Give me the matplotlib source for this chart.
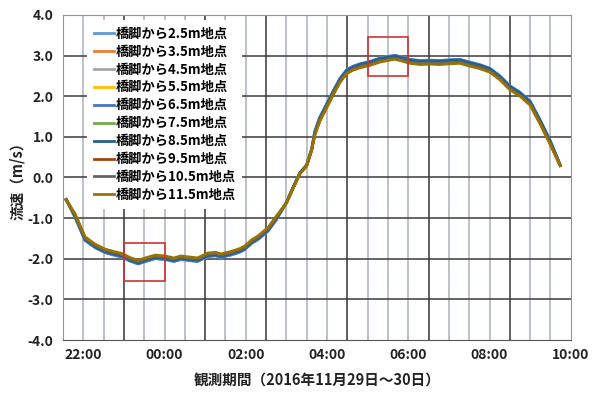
import numpy as np
import matplotlib
matplotlib.use("Agg")
import matplotlib.pyplot as plt
from matplotlib.patches import Rectangle

plt.rcParams['font.family'] = ['Noto Sans CJK JP', 'DejaVu Sans']

# observation time in hours (24+ = next day, 30 Nov)
time_h = [21.58, 21.80, 22.04, 22.29, 22.53, 22.74, 22.95, 23.15, 23.35, 23.56,
          23.77, 24.00, 24.23, 24.40, 24.56, 24.81, 25.06, 25.25, 25.39, 25.64,
          25.85, 25.97, 26.15, 26.30, 26.55, 26.76, 27.00, 27.17, 27.33, 27.50,
          27.62, 27.70, 27.82, 27.99, 28.15, 28.32, 28.48, 28.64, 28.81, 29.06,
          29.30, 29.55, 29.67, 29.79, 30.04, 30.29, 30.53, 30.78, 31.03, 31.27,
          31.52, 31.76, 32.01, 32.26, 32.50, 32.75, 33.00, 33.25, 33.49, 33.74]

# flow speed (m/s) at each distance from the pier
v_25 = [-0.54, -0.99, -1.55, -1.73, -1.85, -1.91, -1.96, -2.06, -2.13, -2.06,
        -2.00, -2.02, -2.07, -2.02, -2.04, -2.07, -1.95, -1.93, -1.97, -1.91,
        -1.84, -1.78, -1.62, -1.53, -1.32, -1.03, -0.61, -0.23, 0.11, 0.31,
        0.69, 1.14, 1.48, 1.81, 2.13, 2.44, 2.65, 2.74, 2.80, 2.86,
        2.94, 2.99, 3.01, 2.98, 2.91, 2.88, 2.89, 2.88, 2.90, 2.91,
        2.84, 2.78, 2.69, 2.50, 2.26, 2.10, 1.88, 1.41, 0.92, 0.31]
v_35 = [-0.55, -0.96, -1.52, -1.70, -1.82, -1.88, -1.93, -2.03, -2.10, -2.03,
        -1.97, -1.99, -2.04, -1.99, -2.01, -2.04, -1.92, -1.90, -1.94, -1.88,
        -1.81, -1.75, -1.59, -1.50, -1.29, -1.00, -0.62, -0.24, 0.10, 0.30,
        0.68, 1.10, 1.44, 1.77, 2.09, 2.40, 2.61, 2.70, 2.76, 2.82,
        2.90, 2.95, 2.97, 2.94, 2.87, 2.84, 2.85, 2.84, 2.86, 2.87,
        2.80, 2.74, 2.65, 2.46, 2.22, 2.06, 1.84, 1.37, 0.88, 0.30]
v_45 = [-0.54, -0.97, -1.53, -1.71, -1.83, -1.89, -1.94, -2.04, -2.11, -2.04,
        -1.98, -2.00, -2.05, -2.00, -2.02, -2.05, -1.93, -1.91, -1.95, -1.89,
        -1.82, -1.76, -1.60, -1.51, -1.30, -1.01, -0.61, -0.23, 0.11, 0.31,
        0.69, 1.11, 1.45, 1.78, 2.10, 2.41, 2.62, 2.71, 2.77, 2.83,
        2.91, 2.96, 2.98, 2.95, 2.88, 2.85, 2.86, 2.85, 2.87, 2.88,
        2.81, 2.75, 2.66, 2.47, 2.23, 2.07, 1.85, 1.38, 0.89, 0.31]
v_55 = [-0.55, -0.95, -1.51, -1.69, -1.81, -1.87, -1.92, -2.02, -2.09, -2.02,
        -1.96, -1.98, -2.03, -1.98, -2.00, -2.03, -1.91, -1.89, -1.93, -1.87,
        -1.80, -1.74, -1.58, -1.49, -1.28, -0.99, -0.62, -0.24, 0.10, 0.30,
        0.68, 1.09, 1.43, 1.76, 2.08, 2.39, 2.60, 2.69, 2.75, 2.81,
        2.89, 2.94, 2.96, 2.93, 2.86, 2.83, 2.84, 2.83, 2.85, 2.86,
        2.79, 2.73, 2.64, 2.45, 2.21, 2.05, 1.83, 1.36, 0.87, 0.30]
v_65 = [-0.54, -0.98, -1.54, -1.72, -1.84, -1.90, -1.95, -2.05, -2.12, -2.05,
        -1.99, -2.01, -2.06, -2.01, -2.03, -2.06, -1.94, -1.92, -1.96, -1.90,
        -1.83, -1.77, -1.61, -1.52, -1.31, -1.02, -0.61, -0.23, 0.11, 0.31,
        0.69, 1.13, 1.47, 1.80, 2.12, 2.43, 2.64, 2.73, 2.79, 2.85,
        2.93, 2.98, 3.00, 2.97, 2.90, 2.87, 2.88, 2.87, 2.89, 2.90,
        2.83, 2.77, 2.68, 2.49, 2.25, 2.09, 1.87, 1.40, 0.91, 0.31]
v_75 = [-0.55, -0.94, -1.50, -1.68, -1.80, -1.86, -1.91, -2.01, -2.08, -2.01,
        -1.95, -1.97, -2.02, -1.97, -1.99, -2.02, -1.90, -1.88, -1.92, -1.86,
        -1.79, -1.73, -1.57, -1.48, -1.27, -0.98, -0.62, -0.24, 0.10, 0.30,
        0.68, 1.11, 1.45, 1.78, 2.10, 2.41, 2.62, 2.71, 2.77, 2.83,
        2.91, 2.96, 2.98, 2.95, 2.88, 2.85, 2.86, 2.85, 2.87, 2.88,
        2.81, 2.75, 2.66, 2.47, 2.23, 2.07, 1.85, 1.38, 0.89, 0.30]
v_85 = [-0.55, -0.96, -1.52, -1.70, -1.82, -1.88, -1.93, -2.03, -2.10, -2.03,
        -1.97, -1.99, -2.04, -1.99, -2.01, -2.04, -1.92, -1.90, -1.94, -1.88,
        -1.81, -1.75, -1.59, -1.50, -1.29, -1.00, -0.62, -0.24, 0.10, 0.30,
        0.68, 1.12, 1.46, 1.79, 2.11, 2.42, 2.63, 2.72, 2.78, 2.84,
        2.92, 2.97, 2.99, 2.96, 2.89, 2.86, 2.87, 2.86, 2.88, 2.89,
        2.82, 2.76, 2.67, 2.48, 2.24, 2.08, 1.86, 1.39, 0.90, 0.30]
v_95 = [-0.56, -0.92, -1.48, -1.66, -1.78, -1.84, -1.89, -1.99, -2.06, -1.99,
        -1.93, -1.95, -2.00, -1.95, -1.97, -2.00, -1.88, -1.86, -1.90, -1.84,
        -1.77, -1.71, -1.55, -1.46, -1.25, -0.96, -0.63, -0.25, 0.09, 0.29,
        0.67, 1.06, 1.40, 1.73, 2.05, 2.36, 2.57, 2.66, 2.72, 2.78,
        2.86, 2.91, 2.93, 2.90, 2.83, 2.80, 2.81, 2.80, 2.82, 2.83,
        2.76, 2.70, 2.61, 2.42, 2.18, 2.02, 1.80, 1.33, 0.84, 0.29]
v_105 = [-0.55, -0.93, -1.49, -1.67, -1.79, -1.85, -1.90, -2.00, -2.07, -2.00,
         -1.94, -1.96, -2.01, -1.96, -1.98, -2.01, -1.89, -1.87, -1.91, -1.85,
         -1.78, -1.72, -1.56, -1.47, -1.26, -0.97, -0.62, -0.24, 0.10, 0.30,
         0.68, 1.07, 1.41, 1.74, 2.06, 2.37, 2.58, 2.67, 2.73, 2.79,
         2.87, 2.92, 2.94, 2.91, 2.84, 2.81, 2.82, 2.81, 2.83, 2.84,
         2.77, 2.71, 2.62, 2.43, 2.19, 2.03, 1.81, 1.34, 0.85, 0.30]
v_115 = [-0.56, -0.90, -1.46, -1.64, -1.76, -1.82, -1.87, -1.97, -2.04, -1.97,
         -1.91, -1.93, -1.98, -1.93, -1.95, -1.98, -1.86, -1.84, -1.88, -1.82,
         -1.75, -1.69, -1.53, -1.44, -1.23, -0.94, -0.63, -0.25, 0.09, 0.29,
         0.67, 1.04, 1.38, 1.71, 2.03, 2.34, 2.55, 2.64, 2.70, 2.76,
         2.84, 2.89, 2.91, 2.88, 2.81, 2.78, 2.79, 2.78, 2.80, 2.81,
         2.74, 2.68, 2.59, 2.40, 2.16, 2.00, 1.78, 1.31, 0.82, 0.29]

series = [v_25, v_35, v_45, v_55, v_65, v_75, v_85, v_95, v_105, v_115]
series_labels = ['橋脚から2.5m地点', '橋脚から3.5m地点', '橋脚から4.5m地点',
                 '橋脚から5.5m地点', '橋脚から6.5m地点', '橋脚から7.5m地点',
                 '橋脚から8.5m地点', '橋脚から9.5m地点', '橋脚から10.5m地点',
                 '橋脚から11.5m地点']
series_colors = ['#5B9BD5', '#ED7D31', '#A5A5A5', '#FFC000', '#4472C4',
                 '#70AD47', '#255E91', '#9E480E', '#636363', '#997300']

tick_hours = [22, 24, 26, 28, 30, 32, 34]
tick_labels = ['22:00', '00:00', '02:00', '04:00', '06:00', '08:00', '10:00']
y_ticks = [-4, -3, -2, -1, 0, 1, 2, 3, 4]

# highlighted windows: (start h, end h, low, high)
box_ebb = (23.0, 24.0, -2.55, -1.60)
box_flood = (29.0, 30.0, 2.50, 3.45)

fig = plt.figure(figsize=(6.03, 3.94), dpi=100)
ax = fig.add_axes([0.1045, 0.137, 0.842, 0.825])

# half-hour vertical grid, a few drawn darker as in the scan
dark_lines = [23.0, 25.0, 26.5, 28.5, 30.5, 32.5]
for h in np.arange(22.0, 34.0, 0.5):
    if h in dark_lines:
        ax.axvline(h, color='#4a4444', lw=1.2, zorder=1)
    else:
        ax.axvline(h, color='#a9b2bc', lw=1.1, zorder=1)
for y in y_ticks[1:-1]:
    ax.axhline(y, color='#3a3a3a', lw=1.1, zorder=1)

for vals, lab, col in zip(series, series_labels, series_colors):
    ax.plot(time_h, vals, color=col, lw=2.0, label=lab, zorder=3)

for x0, x1, y0, y1 in [box_ebb, box_flood]:
    ax.add_patch(Rectangle((x0, y0), x1 - x0, y1 - y0, fill=False,
                           edgecolor='#cc3333', lw=1.2, zorder=4))

ax.set_xlim(21.5, 34.0)
ax.set_ylim(-4, 4)
ax.set_xticks(tick_hours)
ax.set_xticklabels(tick_labels)
ax.set_yticks(y_ticks)
ax.set_yticklabels(['{:.1f}'.format(v) for v in y_ticks])
ax.tick_params(axis='both', length=0, labelsize=10, colors='#222222')
ax.tick_params(axis='x', pad=6)
ax.tick_params(axis='y', pad=7)
for lab in ax.get_xticklabels() + ax.get_yticklabels():
    lab.set_fontweight('bold')

for side in ['left', 'right', 'top']:
    ax.spines[side].set_color('#8e959c')
ax.spines['bottom'].set_color('#555555')

ax.set_ylabel('流速（m/s）', fontsize=10.5, fontweight='bold', color='#222222')
ax.yaxis.set_label_coords(-0.075, 0.5)
ax.set_xlabel('観測期間（2016年11月29日～30日）', fontsize=10.5,
              fontweight='bold', color='#222222')
ax.xaxis.set_label_coords(0.5, -0.126)
ax.xaxis.label.set_va('center')

leg = ax.legend(loc='upper left', bbox_to_anchor=(0.048, 0.985),
                frameon=True, fancybox=False, edgecolor='none',
                facecolor='white', framealpha=1,
                prop={'size': 9.5, 'weight': 'bold'},
                handlelength=1.5, handletextpad=0.15, labelspacing=0.3,
                borderpad=0.5, borderaxespad=0)
leg.set_zorder(5)

fig.savefig('out.png', dpi=100)
